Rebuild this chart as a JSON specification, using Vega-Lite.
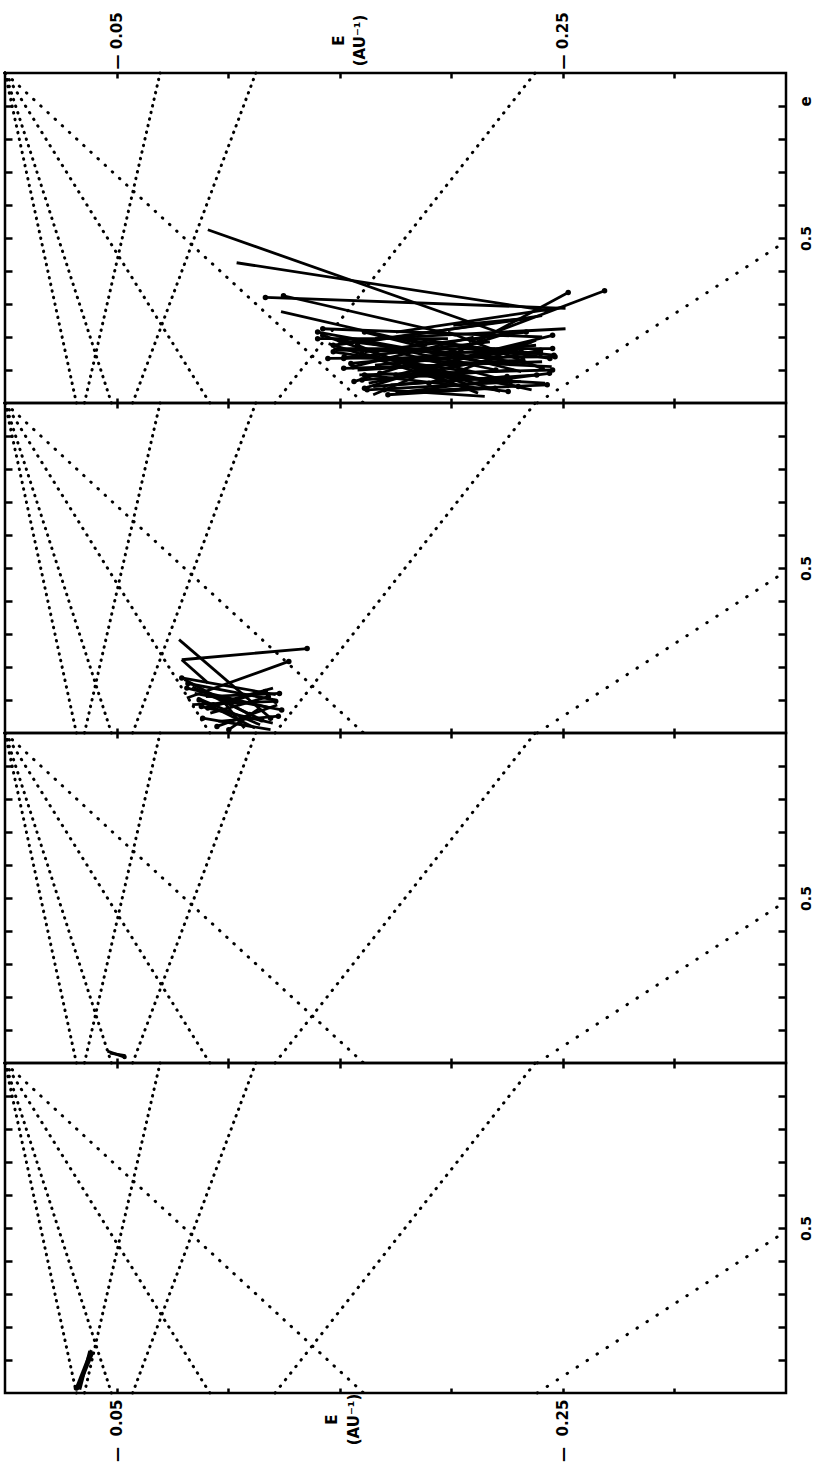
{
  "$schema": "https://vega.github.io/schema/vega-lite/v6.json",
  "padding": {"left": -3, "top": 10, "right": 0, "bottom": 2},
  "background": "white",
  "spacing": 0,
  "bounds": "flush",
  "config": {
    "view": {"stroke": "black", "strokeWidth": 2.5},
    "axis": {
      "domain": false, "grid": false, "tickColor": "black", "tickWidth": 2.5, "minExtent": 0,
      "labelFont": "DejaVu Sans", "labelFontWeight": "bold", "labelColor": "black", "labelFlush": false, "labelOverlap": false,
      "titleFont": "DejaVu Sans", "titleFontWeight": "bold", "titleColor": "black"
    }
  },
  "datasets": {
    "guides": [
      {"line": "D1", "o": 0, "E": 0, "e": 1}, {"line": "D1", "o": 1, "E": -0.032, "e": 0},
      {"line": "D2", "o": 0, "E": 0, "e": 1}, {"line": "D2", "o": 1, "E": -0.0477, "e": 0},
      {"line": "D3", "o": 0, "E": 0, "e": 1}, {"line": "D3", "o": 1, "E": -0.0918, "e": 0},
      {"line": "D4", "o": 0, "E": 0, "e": 1}, {"line": "D4", "o": 1, "E": -0.1607, "e": 0},
      {"line": "A1", "o": 0, "E": -0.0356, "e": 0}, {"line": "A1", "o": 1, "E": -0.0695, "e": 1},
      {"line": "A2", "o": 0, "E": -0.0572, "e": 0}, {"line": "A2", "o": 1, "E": -0.1124, "e": 1},
      {"line": "A3", "o": 0, "E": -0.121, "e": 0}, {"line": "A3", "o": 1, "E": -0.2376, "e": 1},
      {"line": "A4", "o": 0, "E": -0.2385, "e": 0}, {"line": "A4", "o": 1, "E": -0.35, "e": 0.49}
    ],
    "traj": [
      {"panel":1,"seg":"1","o":0,"E":-0.0909,"e":0.525,"dot":0},{"panel":1,"seg":"1","o":1,"E":-0.2231,"e":0.210,"dot":0},
      {"panel":1,"seg":"2","o":0,"E":-0.1038,"e":0.425,"dot":0},{"panel":1,"seg":"2","o":1,"E":-0.2430,"e":0.280,"dot":1},
      {"panel":1,"seg":"3","o":0,"E":-0.1167,"e":0.320,"dot":1},{"panel":1,"seg":"3","o":1,"E":-0.2512,"e":0.287,"dot":0},
      {"panel":1,"seg":"4","o":0,"E":-0.1248,"e":0.325,"dot":1},{"panel":1,"seg":"4","o":1,"E":-0.2021,"e":0.205,"dot":0},
      {"panel":1,"seg":"5","o":0,"E":-0.1237,"e":0.277,"dot":0},{"panel":1,"seg":"5","o":1,"E":-0.1892,"e":0.175,"dot":0},
      {"panel":1,"seg":"6","o":0,"E":-0.2687,"e":0.340,"dot":1},{"panel":1,"seg":"6","o":1,"E":-0.2079,"e":0.185,"dot":0},
      {"panel":1,"seg":"7","o":0,"E":-0.2524,"e":0.335,"dot":1},{"panel":1,"seg":"7","o":1,"E":-0.2032,"e":0.155,"dot":0},
      {"panel":1,"seg":"8","o":0,"E":-0.2500,"e":0.290,"dot":0},{"panel":1,"seg":"8","o":1,"E":-0.1752,"e":0.215,"dot":0},
      {"panel":1,"seg":"9","o":0,"E":-0.2512,"e":0.225,"dot":0},{"panel":1,"seg":"9","o":1,"E":-0.1658,"e":0.195,"dot":0},
      {"panel":1,"seg":"10","o":0,"E":-0.2407,"e":0.200,"dot":0},{"panel":1,"seg":"10","o":1,"E":-0.1424,"e":0.225,"dot":1},
      {"panel":1,"seg":"11","o":0,"E":-0.2454,"e":0.165,"dot":1},{"panel":1,"seg":"11","o":1,"E":-0.1471,"e":0.165,"dot":0},
      {"panel":1,"seg":"12","o":0,"E":-0.2465,"e":0.140,"dot":1},{"panel":1,"seg":"12","o":1,"E":-0.1447,"e":0.135,"dot":1},
      {"panel":1,"seg":"13","o":0,"E":-0.2454,"e":0.100,"dot":1},{"panel":1,"seg":"13","o":1,"E":-0.1588,"e":0.085,"dot":0},
      {"panel":1,"seg":"14","o":0,"E":-0.2407,"e":0.125,"dot":0},{"panel":1,"seg":"14","o":1,"E":-0.1518,"e":0.105,"dot":1},
      {"panel":1,"seg":"15","o":0,"E":-0.2255,"e":0.035,"dot":1},{"panel":1,"seg":"15","o":1,"E":-0.1611,"e":0.085,"dot":1},
      {"panel":1,"seg":"16","o":0,"E":-0.2313,"e":0.065,"dot":0},{"panel":1,"seg":"16","o":1,"E":-0.1623,"e":0.040,"dot":1},
      {"panel":1,"seg":"17","o":0,"E":-0.2196,"e":0.045,"dot":1},{"panel":1,"seg":"17","o":1,"E":-0.1716,"e":0.025,"dot":1},
      {"panel":1,"seg":"18","o":0,"E":-0.2383,"e":0.085,"dot":1},{"panel":1,"seg":"18","o":1,"E":-0.1728,"e":0.055,"dot":0},
      {"panel":1,"seg":"19","o":0,"E":-0.2219,"e":0.115,"dot":0},{"panel":1,"seg":"19","o":1,"E":-0.1401,"e":0.215,"dot":1},
      {"panel":1,"seg":"20","o":0,"E":-0.2313,"e":0.155,"dot":1},{"panel":1,"seg":"20","o":1,"E":-0.1658,"e":0.115,"dot":0},
      {"panel":1,"seg":"21","o":0,"E":-0.2173,"e":0.185,"dot":0},{"panel":1,"seg":"21","o":1,"E":-0.1518,"e":0.135,"dot":1},
      {"panel":1,"seg":"22","o":0,"E":-0.2336,"e":0.215,"dot":1},{"panel":1,"seg":"22","o":1,"E":-0.1611,"e":0.155,"dot":0},
      {"panel":1,"seg":"23","o":0,"E":-0.2079,"e":0.095,"dot":0},{"panel":1,"seg":"23","o":1,"E":-0.1471,"e":0.155,"dot":1},
      {"panel":1,"seg":"24","o":0,"E":-0.2430,"e":0.055,"dot":1},{"panel":1,"seg":"24","o":1,"E":-0.1798,"e":0.035,"dot":0},
      {"panel":1,"seg":"25","o":0,"E":-0.2360,"e":0.185,"dot":0},{"panel":1,"seg":"25","o":1,"E":-0.1752,"e":0.085,"dot":1},
      {"panel":1,"seg":"26","o":0,"E":-0.2266,"e":0.215,"dot":0},{"panel":1,"seg":"26","o":1,"E":-0.1564,"e":0.065,"dot":1},
      {"panel":1,"seg":"27","o":0,"E":-0.1985,"e":0.215,"dot":0},{"panel":1,"seg":"27","o":1,"E":-0.2407,"e":0.105,"dot":1},
      {"panel":1,"seg":"28","o":0,"E":-0.1845,"e":0.195,"dot":0},{"panel":1,"seg":"28","o":1,"E":-0.2442,"e":0.135,"dot":1},
      {"panel":1,"seg":"29","o":0,"E":-0.1611,"e":0.215,"dot":1},{"panel":1,"seg":"29","o":1,"E":-0.2313,"e":0.095,"dot":0},
      {"panel":1,"seg":"30","o":0,"E":-0.1424,"e":0.205,"dot":1},{"panel":1,"seg":"30","o":1,"E":-0.2079,"e":0.055,"dot":0},
      {"panel":1,"seg":"31","o":0,"E":-0.2009,"e":0.235,"dot":0},{"panel":1,"seg":"31","o":1,"E":-0.2313,"e":0.255,"dot":0},
      {"panel":1,"seg":"32","o":0,"E":-0.2336,"e":0.255,"dot":0},{"panel":1,"seg":"32","o":1,"E":-0.1471,"e":0.175,"dot":1},
      {"panel":1,"seg":"33","o":0,"E":-0.2196,"e":0.165,"dot":0},{"panel":1,"seg":"33","o":1,"E":-0.1611,"e":0.045,"dot":1},
      {"panel":1,"seg":"34","o":0,"E":-0.2032,"e":0.135,"dot":0},{"panel":1,"seg":"34","o":1,"E":-0.2454,"e":0.205,"dot":1},
      {"panel":1,"seg":"35","o":0,"E":-0.1752,"e":0.155,"dot":0},{"panel":1,"seg":"35","o":1,"E":-0.2266,"e":0.065,"dot":1},
      {"panel":1,"seg":"36","o":0,"E":-0.2407,"e":0.265,"dot":0},{"panel":1,"seg":"36","o":1,"E":-0.1611,"e":0.185,"dot":0},
      {"panel":1,"seg":"37","o":0,"E":-0.1985,"e":0.195,"dot":0},{"panel":1,"seg":"37","o":1,"E":-0.1401,"e":0.195,"dot":1},
      {"panel":1,"seg":"38","o":0,"E":-0.2219,"e":0.035,"dot":0},{"panel":1,"seg":"38","o":1,"E":-0.1845,"e":0.115,"dot":0},
      {"panel":1,"seg":"39","o":0,"E":-0.150,"e":0.190,"dot":1},{"panel":1,"seg":"39","o":1,"E":-0.235,"e":0.120,"dot":0},
      {"panel":1,"seg":"40","o":0,"E":-0.148,"e":0.160,"dot":0},{"panel":1,"seg":"40","o":1,"E":-0.240,"e":0.150,"dot":1},
      {"panel":1,"seg":"41","o":0,"E":-0.155,"e":0.120,"dot":1},{"panel":1,"seg":"41","o":1,"E":-0.238,"e":0.175,"dot":0},
      {"panel":1,"seg":"42","o":0,"E":-0.158,"e":0.100,"dot":0},{"panel":1,"seg":"42","o":1,"E":-0.232,"e":0.130,"dot":1},
      {"panel":1,"seg":"43","o":0,"E":-0.160,"e":0.070,"dot":1},{"panel":1,"seg":"43","o":1,"E":-0.228,"e":0.100,"dot":0},
      {"panel":1,"seg":"44","o":0,"E":-0.165,"e":0.050,"dot":0},{"panel":1,"seg":"44","o":1,"E":-0.225,"e":0.080,"dot":1},
      {"panel":1,"seg":"45","o":0,"E":-0.170,"e":0.040,"dot":1},{"panel":1,"seg":"45","o":1,"E":-0.215,"e":0.020,"dot":0},
      {"panel":1,"seg":"46","o":0,"E":-0.145,"e":0.180,"dot":0},{"panel":1,"seg":"46","o":1,"E":-0.200,"e":0.060,"dot":1},
      {"panel":1,"seg":"47","o":0,"E":-0.152,"e":0.140,"dot":1},{"panel":1,"seg":"47","o":1,"E":-0.245,"e":0.110,"dot":0},
      {"panel":1,"seg":"48","o":0,"E":-0.163,"e":0.060,"dot":0},{"panel":1,"seg":"48","o":1,"E":-0.240,"e":0.160,"dot":1},
      {"panel":1,"seg":"49","o":0,"E":-0.156,"e":0.110,"dot":1},{"panel":1,"seg":"49","o":1,"E":-0.210,"e":0.200,"dot":0},
      {"panel":1,"seg":"50","o":0,"E":-0.175,"e":0.030,"dot":0},{"panel":1,"seg":"50","o":1,"E":-0.244,"e":0.090,"dot":1},
      {"panel":1,"seg":"51","o":0,"E":-0.168,"e":0.090,"dot":1},{"panel":1,"seg":"51","o":1,"E":-0.242,"e":0.060,"dot":0},
      {"panel":1,"seg":"52","o":0,"E":-0.150,"e":0.200,"dot":0},{"panel":1,"seg":"52","o":1,"E":-0.220,"e":0.100,"dot":1},
      {"panel":1,"seg":"53","o":0,"E":-0.160,"e":0.150,"dot":1},{"panel":1,"seg":"53","o":1,"E":-0.236,"e":0.040,"dot":0},
      {"panel":1,"seg":"54","o":0,"E":-0.180,"e":0.190,"dot":0},{"panel":1,"seg":"54","o":1,"E":-0.246,"e":0.145,"dot":1},
      {"panel":1,"seg":"55","o":0,"E":-0.190,"e":0.060,"dot":1},{"panel":1,"seg":"55","o":1,"E":-0.238,"e":0.190,"dot":0},
      {"panel":1,"seg":"56","o":0,"E":-0.172,"e":0.120,"dot":0},{"panel":1,"seg":"56","o":1,"E":-0.230,"e":0.050,"dot":1},
      {"panel":1,"seg":"57","o":0,"E":-0.158,"e":0.175,"dot":1},{"panel":1,"seg":"57","o":1,"E":-0.212,"e":0.030,"dot":0},
      {"panel":1,"seg":"58","o":0,"E":-0.165,"e":0.025,"dot":0},{"panel":1,"seg":"58","o":1,"E":-0.205,"e":0.140,"dot":1},
      {"panel":2,"seg":"1","o":0,"E":-0.0780,"e":0.283,"dot":0},{"panel":2,"seg":"1","o":1,"E":-0.1190,"e":0.045,"dot":1},
      {"panel":2,"seg":"2","o":0,"E":-0.0792,"e":0.222,"dot":0},{"panel":2,"seg":"2","o":1,"E":-0.1354,"e":0.256,"dot":1},
      {"panel":2,"seg":"3","o":0,"E":-0.0792,"e":0.222,"dot":0},{"panel":2,"seg":"3","o":1,"E":-0.0909,"e":0.152,"dot":0},
      {"panel":2,"seg":"4","o":0,"E":-0.1272,"e":0.217,"dot":1},{"panel":2,"seg":"4","o":1,"E":-0.0815,"e":0.106,"dot":0},
      {"panel":2,"seg":"5","o":0,"E":-0.0792,"e":0.167,"dot":1},{"panel":2,"seg":"5","o":1,"E":-0.1213,"e":0.116,"dot":0},
      {"panel":2,"seg":"6","o":0,"E":-0.0815,"e":0.136,"dot":1},{"panel":2,"seg":"6","o":1,"E":-0.1190,"e":0.076,"dot":0},
      {"panel":2,"seg":"7","o":0,"E":-0.0839,"e":0.086,"dot":0},{"panel":2,"seg":"7","o":1,"E":-0.1213,"e":0.096,"dot":1},
      {"panel":2,"seg":"8","o":0,"E":-0.0886,"e":0.045,"dot":1},{"panel":2,"seg":"8","o":1,"E":-0.1190,"e":0.010,"dot":0},
      {"panel":2,"seg":"9","o":0,"E":-0.0909,"e":0.076,"dot":1},{"panel":2,"seg":"9","o":1,"E":-0.1166,"e":0.126,"dot":1},
      {"panel":2,"seg":"10","o":0,"E":-0.0956,"e":0.035,"dot":0},{"panel":2,"seg":"10","o":1,"E":-0.1225,"e":0.051,"dot":1},
      {"panel":2,"seg":"11","o":0,"E":-0.0862,"e":0.106,"dot":0},{"panel":2,"seg":"11","o":1,"E":-0.1143,"e":0.025,"dot":0},
      {"panel":2,"seg":"12","o":0,"E":-0.0804,"e":0.162,"dot":0},{"panel":2,"seg":"12","o":1,"E":-0.1096,"e":0.056,"dot":1},
      {"panel":2,"seg":"13","o":0,"E":-0.1073,"e":0.015,"dot":0},{"panel":2,"seg":"13","o":1,"E":-0.0979,"e":0.096,"dot":0},
      {"panel":2,"seg":"14","o":0,"E":-0.0933,"e":0.086,"dot":1},{"panel":2,"seg":"14","o":1,"E":-0.1201,"e":0.136,"dot":0},
      {"panel":2,"seg":"15","o":0,"E":-0.1003,"e":0.010,"dot":1},{"panel":2,"seg":"15","o":1,"E":-0.1143,"e":0.076,"dot":0},
      {"panel":2,"seg":"16","o":0,"E":-0.082,"e":0.150,"dot":1},{"panel":2,"seg":"16","o":1,"E":-0.121,"e":0.100,"dot":0},
      {"panel":2,"seg":"17","o":0,"E":-0.085,"e":0.120,"dot":0},{"panel":2,"seg":"17","o":1,"E":-0.124,"e":0.070,"dot":1},
      {"panel":2,"seg":"18","o":0,"E":-0.088,"e":0.080,"dot":1},{"panel":2,"seg":"18","o":1,"E":-0.120,"e":0.030,"dot":0},
      {"panel":2,"seg":"19","o":0,"E":-0.092,"e":0.060,"dot":0},{"panel":2,"seg":"19","o":1,"E":-0.118,"e":0.110,"dot":1},
      {"panel":2,"seg":"20","o":0,"E":-0.084,"e":0.140,"dot":0},{"panel":2,"seg":"20","o":1,"E":-0.115,"e":0.040,"dot":1},
      {"panel":2,"seg":"21","o":0,"E":-0.095,"e":0.020,"dot":1},{"panel":2,"seg":"21","o":1,"E":-0.122,"e":0.085,"dot":0},
      {"panel":2,"seg":"22","o":0,"E":-0.090,"e":0.110,"dot":0},{"panel":2,"seg":"22","o":1,"E":-0.123,"e":0.120,"dot":1},
      {"panel":2,"seg":"23","o":0,"E":-0.087,"e":0.100,"dot":1},{"panel":2,"seg":"23","o":1,"E":-0.112,"e":0.015,"dot":0},
      {"panel":3,"seg":"1","o":0,"E":-0.0459,"e":0.036,"dot":0},{"panel":3,"seg":"1","o":1,"E":-0.0536,"e":0.018,"dot":1},
      {"panel":3,"seg":"2","o":0,"E":-0.0470,"e":0.030,"dot":0},{"panel":3,"seg":"2","o":1,"E":-0.0540,"e":0.022,"dot":0},
      {"panel":4,"seg":"1","o":0,"E":-0.0387,"e":0.130,"dot":0},{"panel":4,"seg":"1","o":1,"E":-0.0320,"e":0.015,"dot":1},
      {"panel":4,"seg":"2","o":0,"E":-0.0395,"e":0.125,"dot":0},{"panel":4,"seg":"2","o":1,"E":-0.0330,"e":0.020,"dot":1},
      {"panel":4,"seg":"3","o":0,"E":-0.0380,"e":0.128,"dot":0},{"panel":4,"seg":"3","o":1,"E":-0.0335,"e":0.010,"dot":0}
    ]
  },
  "vconcat": [
    {
      "width": 781, "height": 330,
      "resolve": {"axis": {"x": "independent", "y": "independent"}},
      "layer": [
        {
          "data": {"name": "guides"},
          "mark": {"type": "line", "strokeWidth": 3, "strokeCap": "round", "color": "black"},
          "encoding": {
            "x": {"field": "E", "type": "quantitative", "scale": {"domain": [-0.35, 0], "reverse": true, "nice": false, "zero": false},
              "axis": {"orient": "top", "values": [-0.3, -0.25, -0.2, -0.15, -0.1, -0.05], "tickSize": -5,
                "labelExpr": "abs(datum.value + 0.05) < 1e-6 ? '—\u00a00.05' : (abs(datum.value + 0.25) < 1e-6 ? '—\u00a00.25' : '')",
                "labelAngle": 270, "labelAlign": "left", "labelBaseline": "middle", "labelPadding": 9, "labelFontSize": 15,
                "title": ["E", "(AU⁻¹)"], "titleAngle": 270, "titleAlign": "center", "titleBaseline": "middle",
                "titleX": 333, "titleY": -33, "titleFontSize": 15, "titleLineHeight": 21}},
            "y": {"field": "e", "type": "quantitative", "scale": {"domain": [0, 1], "nice": false},
              "axis": {"orient": "left", "values": [0.1, 0.2, 0.3, 0.4, 0.5, 0.6, 0.7, 0.8, 0.9], "tickSize": -7, "labels": false, "title": null}},
            "detail": {"field": "line"},
            "order": {"field": "o"},
            "strokeDash": {"field": "line", "type": "nominal", "legend": null,
              "scale": {"domain": ["D1", "D2", "D3", "D4", "A1", "A2", "A3", "A4"],
                "range": [[0.5, 6.25], [0.5, 6.43], [0.5, 7.26], [0.5, 9.22], [0.5, 6.27], [0.5, 6.54], [0.5, 7.89], [0.5, 11.4]]}}
          }
        },
        {
          "data": {"name": "traj"},
          "transform": [{"filter": "datum.panel == 1"}],
          "mark": {"type": "line", "strokeWidth": 2.8, "color": "black"},
          "encoding": {
            "x": {"field": "E", "type": "quantitative", "scale": {"domain": [-0.35, 0], "reverse": true, "nice": false, "zero": false},
              "axis": {"orient": "bottom", "values": [-0.3, -0.25, -0.2, -0.15, -0.1, -0.05], "tickSize": -5, "labels": false, "title": null}},
            "y": {"field": "e", "type": "quantitative", "scale": {"domain": [0, 1], "nice": false},
              "axis": {"orient": "right", "values": [0.1, 0.2, 0.3, 0.4, 0.5, 0.6, 0.7, 0.8, 0.9], "tickSize": -8,
                "labelExpr": "abs(datum.value - 0.5) < 1e-6 ? '0.5' : ''", "labelAngle": 270, "labelAlign": "center", "labelBaseline": "top",
                "labelPadding": 21, "labelFontSize": 14,
                "title": "e", "titleAngle": 270, "titleAlign": "center", "titleBaseline": "middle", "titleX": 19, "titleY": 28, "titleFontSize": 15}},
            "detail": {"field": "seg"},
            "order": {"field": "o"}
          }
        },
        {
          "data": {"name": "traj"},
          "transform": [{"filter": "datum.panel == 1 && datum.dot == 1"}],
          "mark": {"type": "point", "filled": true, "size": 30, "color": "black", "opacity": 1},
          "encoding": {
            "x": {"field": "E", "type": "quantitative", "axis": null},
            "y": {"field": "e", "type": "quantitative", "axis": null}
          }
        }
      ]
    },
    {
      "width": 781, "height": 330,
      "resolve": {"axis": {"x": "independent", "y": "independent"}},
      "layer": [
        {
          "data": {"name": "guides"},
          "mark": {"type": "line", "strokeWidth": 3, "strokeCap": "round", "color": "black"},
          "encoding": {
            "x": {"field": "E", "type": "quantitative", "scale": {"domain": [-0.35, 0], "reverse": true, "nice": false, "zero": false},
              "axis": {"orient": "top", "values": [-0.3, -0.25, -0.2, -0.15, -0.1, -0.05], "tickSize": -5, "labels": false, "title": null}},
            "y": {"field": "e", "type": "quantitative", "scale": {"domain": [0, 1], "nice": false},
              "axis": {"orient": "left", "values": [0.1, 0.2, 0.3, 0.4, 0.5, 0.6, 0.7, 0.8, 0.9], "tickSize": -7, "labels": false, "title": null}},
            "detail": {"field": "line"},
            "order": {"field": "o"},
            "strokeDash": {"field": "line", "type": "nominal", "legend": null,
              "scale": {"domain": ["D1", "D2", "D3", "D4", "A1", "A2", "A3", "A4"],
                "range": [[0.5, 6.25], [0.5, 6.43], [0.5, 7.26], [0.5, 9.22], [0.5, 6.27], [0.5, 6.54], [0.5, 7.89], [0.5, 11.4]]}}
          }
        },
        {
          "data": {"name": "traj"},
          "transform": [{"filter": "datum.panel == 2"}],
          "mark": {"type": "line", "strokeWidth": 2.8, "color": "black"},
          "encoding": {
            "x": {"field": "E", "type": "quantitative", "scale": {"domain": [-0.35, 0], "reverse": true, "nice": false, "zero": false},
              "axis": {"orient": "bottom", "values": [-0.3, -0.25, -0.2, -0.15, -0.1, -0.05], "tickSize": -5, "labels": false, "title": null}},
            "y": {"field": "e", "type": "quantitative", "scale": {"domain": [0, 1], "nice": false},
              "axis": {"orient": "right", "values": [0.1, 0.2, 0.3, 0.4, 0.5, 0.6, 0.7, 0.8, 0.9], "tickSize": -8,
                "labelExpr": "abs(datum.value - 0.5) < 1e-6 ? '0.5' : ''", "labelAngle": 270, "labelAlign": "center", "labelBaseline": "top",
                "labelPadding": 21, "labelFontSize": 14, "title": null}},
            "detail": {"field": "seg"},
            "order": {"field": "o"}
          }
        },
        {
          "data": {"name": "traj"},
          "transform": [{"filter": "datum.panel == 2 && datum.dot == 1"}],
          "mark": {"type": "point", "filled": true, "size": 30, "color": "black", "opacity": 1},
          "encoding": {
            "x": {"field": "E", "type": "quantitative", "axis": null},
            "y": {"field": "e", "type": "quantitative", "axis": null}
          }
        }
      ]
    },
    {
      "width": 781, "height": 330,
      "resolve": {"axis": {"x": "independent", "y": "independent"}},
      "layer": [
        {
          "data": {"name": "guides"},
          "mark": {"type": "line", "strokeWidth": 3, "strokeCap": "round", "color": "black"},
          "encoding": {
            "x": {"field": "E", "type": "quantitative", "scale": {"domain": [-0.35, 0], "reverse": true, "nice": false, "zero": false},
              "axis": {"orient": "top", "values": [-0.3, -0.25, -0.2, -0.15, -0.1, -0.05], "tickSize": -5, "labels": false, "title": null}},
            "y": {"field": "e", "type": "quantitative", "scale": {"domain": [0, 1], "nice": false},
              "axis": {"orient": "left", "values": [0.1, 0.2, 0.3, 0.4, 0.5, 0.6, 0.7, 0.8, 0.9], "tickSize": -7, "labels": false, "title": null}},
            "detail": {"field": "line"},
            "order": {"field": "o"},
            "strokeDash": {"field": "line", "type": "nominal", "legend": null,
              "scale": {"domain": ["D1", "D2", "D3", "D4", "A1", "A2", "A3", "A4"],
                "range": [[0.5, 6.25], [0.5, 6.43], [0.5, 7.26], [0.5, 9.22], [0.5, 6.27], [0.5, 6.54], [0.5, 7.89], [0.5, 11.4]]}}
          }
        },
        {
          "data": {"name": "traj"},
          "transform": [{"filter": "datum.panel == 3"}],
          "mark": {"type": "line", "strokeWidth": 2.8, "color": "black"},
          "encoding": {
            "x": {"field": "E", "type": "quantitative", "scale": {"domain": [-0.35, 0], "reverse": true, "nice": false, "zero": false},
              "axis": {"orient": "bottom", "values": [-0.3, -0.25, -0.2, -0.15, -0.1, -0.05], "tickSize": -5, "labels": false, "title": null}},
            "y": {"field": "e", "type": "quantitative", "scale": {"domain": [0, 1], "nice": false},
              "axis": {"orient": "right", "values": [0.1, 0.2, 0.3, 0.4, 0.5, 0.6, 0.7, 0.8, 0.9], "tickSize": -8,
                "labelExpr": "abs(datum.value - 0.5) < 1e-6 ? '0.5' : ''", "labelAngle": 270, "labelAlign": "center", "labelBaseline": "top",
                "labelPadding": 21, "labelFontSize": 14, "title": null}},
            "detail": {"field": "seg"},
            "order": {"field": "o"}
          }
        },
        {
          "data": {"name": "traj"},
          "transform": [{"filter": "datum.panel == 3 && datum.dot == 1"}],
          "mark": {"type": "point", "filled": true, "size": 20, "color": "black", "opacity": 1},
          "encoding": {
            "x": {"field": "E", "type": "quantitative", "axis": null},
            "y": {"field": "e", "type": "quantitative", "axis": null}
          }
        }
      ]
    },
    {
      "width": 781, "height": 330,
      "resolve": {"axis": {"x": "independent", "y": "independent"}},
      "layer": [
        {
          "data": {"name": "guides"},
          "mark": {"type": "line", "strokeWidth": 3, "strokeCap": "round", "color": "black"},
          "encoding": {
            "x": {"field": "E", "type": "quantitative", "scale": {"domain": [-0.35, 0], "reverse": true, "nice": false, "zero": false},
              "axis": {"orient": "top", "values": [-0.3, -0.25, -0.2, -0.15, -0.1, -0.05], "tickSize": -5, "labels": false, "title": null}},
            "y": {"field": "e", "type": "quantitative", "scale": {"domain": [0, 1], "nice": false},
              "axis": {"orient": "left", "values": [0.1, 0.2, 0.3, 0.4, 0.5, 0.6, 0.7, 0.8, 0.9], "tickSize": -7, "labels": false, "title": null}},
            "detail": {"field": "line"},
            "order": {"field": "o"},
            "strokeDash": {"field": "line", "type": "nominal", "legend": null,
              "scale": {"domain": ["D1", "D2", "D3", "D4", "A1", "A2", "A3", "A4"],
                "range": [[0.5, 6.25], [0.5, 6.43], [0.5, 7.26], [0.5, 9.22], [0.5, 6.27], [0.5, 6.54], [0.5, 7.89], [0.5, 11.4]]}}
          }
        },
        {
          "data": {"name": "traj"},
          "transform": [{"filter": "datum.panel == 4"}],
          "mark": {"type": "line", "strokeWidth": 3, "color": "black"},
          "encoding": {
            "x": {"field": "E", "type": "quantitative", "scale": {"domain": [-0.35, 0], "reverse": true, "nice": false, "zero": false},
              "axis": {"orient": "bottom", "values": [-0.3, -0.25, -0.2, -0.15, -0.1, -0.05], "tickSize": -5,
                "labelExpr": "abs(datum.value + 0.05) < 1e-6 ? '—\u00a0\u00a00.05' : (abs(datum.value + 0.25) < 1e-6 ? '—\u00a0\u00a00.25' : '')",
                "labelAngle": 270, "labelAlign": "right", "labelBaseline": "middle", "labelPadding": 11, "labelFontSize": 15,
                "title": ["E", "(AU⁻¹)"], "titleAngle": 270, "titleAlign": "center", "titleBaseline": "middle",
                "titleX": 326, "titleY": 26, "titleFontSize": 15, "titleLineHeight": 22}},
            "y": {"field": "e", "type": "quantitative", "scale": {"domain": [0, 1], "nice": false},
              "axis": {"orient": "right", "values": [0.1, 0.2, 0.3, 0.4, 0.5, 0.6, 0.7, 0.8, 0.9], "tickSize": -8,
                "labelExpr": "abs(datum.value - 0.5) < 1e-6 ? '0.5' : ''", "labelAngle": 270, "labelAlign": "center", "labelBaseline": "top",
                "labelPadding": 21, "labelFontSize": 14, "title": null}},
            "detail": {"field": "seg"},
            "order": {"field": "o"}
          }
        },
        {
          "data": {"name": "traj"},
          "transform": [{"filter": "datum.panel == 4 && datum.dot == 1"}],
          "mark": {"type": "point", "filled": true, "size": 30, "color": "black", "opacity": 1},
          "encoding": {
            "x": {"field": "E", "type": "quantitative", "axis": null},
            "y": {"field": "e", "type": "quantitative", "axis": null}
          }
        }
      ]
    }
  ]
}
